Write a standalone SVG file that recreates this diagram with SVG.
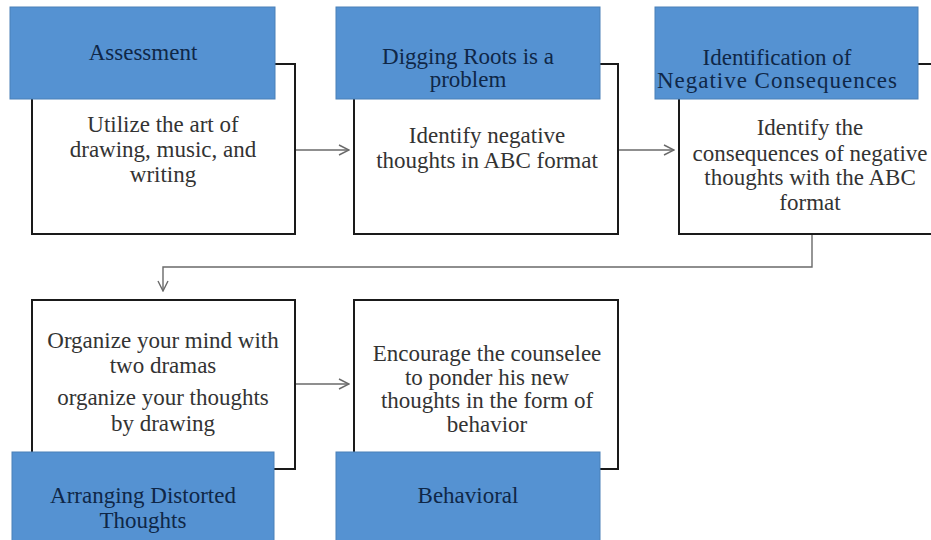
<svg xmlns="http://www.w3.org/2000/svg" width="931" height="540" viewBox="0 0 931 540">
  <defs>
    <style>
      .body { fill: #ffffff; stroke: #1a1a1a; stroke-width: 2; }
      .head { fill: #5592d2; stroke: #4a80b8; stroke-width: 1; }
      .bt { font-family: "Liberation Serif", "Times New Roman", serif; font-size: 23px; text-anchor: middle; fill: #333333; }
      .ht { font-family: "Liberation Serif", "Times New Roman", serif; font-size: 23px; text-anchor: middle; fill: #0f2747; }
      .conn { fill: none; stroke: #6a6a6a; stroke-width: 1.4; }
    </style>
    <marker id="arr" viewBox="0 0 12 12" refX="11" refY="6" markerWidth="12" markerHeight="12" markerUnits="userSpaceOnUse" orient="auto">
      <path d="M1,1 L11,6 L1,11" fill="none" stroke="#6a6a6a" stroke-width="1.4"/>
    </marker>
  </defs>
  <rect width="931" height="540" fill="#ffffff"/>

  <g id="connectors">
    <path class="conn" d="M295,150 L349,150" marker-end="url(#arr)"/>
    <path class="conn" d="M618,150 L674,150" marker-end="url(#arr)"/>
    <path class="conn" d="M812,234 L812,267 L163,267 L163,291" marker-end="url(#arr)"/>
    <path class="conn" d="M295,384 L349,384" marker-end="url(#arr)"/>
  </g>

  <g id="assessment">
    <rect class="body" x="32" y="64" width="263" height="170"/>
    <rect class="head" x="10" y="7" width="265" height="92"/>
    <text class="ht" x="143" y="60">Assessment</text>
    <text class="bt" x="163" y="132">Utilize the art of</text>
    <text class="bt" x="163" y="157">drawing, music, and</text>
    <text class="bt" x="163" y="182">writing</text>
  </g>

  <g id="digging-roots">
    <rect class="body" x="354" y="64" width="264" height="170"/>
    <rect class="head" x="336" y="7" width="264" height="92"/>
    <text class="ht" x="468" y="64">Digging Roots is a</text>
    <text class="ht" x="468" y="87">problem</text>
    <text class="bt" x="487" y="143">Identify negative</text>
    <text class="bt" x="487" y="168">thoughts in ABC format</text>
  </g>

  <g id="negative-consequences">
    <rect class="body" x="679" y="64" width="264" height="170"/>
    <rect class="head" x="655" y="7" width="263" height="92"/>
    <text class="ht" x="777" y="65">Identification of</text>
    <text class="ht" x="777" y="88" textLength="240" lengthAdjust="spacing">Negative Consequences</text>
    <text class="bt" x="810" y="135">Identify the</text>
    <text class="bt" x="810" y="161">consequences of negative</text>
    <text class="bt" x="810" y="185">thoughts with the ABC</text>
    <text class="bt" x="810" y="210">format</text>
  </g>

  <g id="arranging-distorted-thoughts">
    <rect class="body" x="32" y="300" width="263" height="169"/>
    <rect class="head" x="12" y="452" width="262" height="95"/>
    <text class="bt" x="163" y="348">Organize your mind with</text>
    <text class="bt" x="163" y="373">two dramas</text>
    <text class="bt" x="163" y="405">organize your thoughts</text>
    <text class="bt" x="163" y="431">by drawing</text>
    <text class="ht" x="143" y="503">Arranging Distorted</text>
    <text class="ht" x="143" y="528">Thoughts</text>
  </g>

  <g id="behavioral">
    <rect class="body" x="354" y="300" width="264" height="169"/>
    <rect class="head" x="336" y="452" width="264" height="95"/>
    <text class="bt" x="487" y="361">Encourage the counselee</text>
    <text class="bt" x="487" y="385">to ponder his new</text>
    <text class="bt" x="487" y="408">thoughts in the form of</text>
    <text class="bt" x="487" y="432">behavior</text>
    <text class="ht" x="468" y="503">Behavioral</text>
  </g>
</svg>
